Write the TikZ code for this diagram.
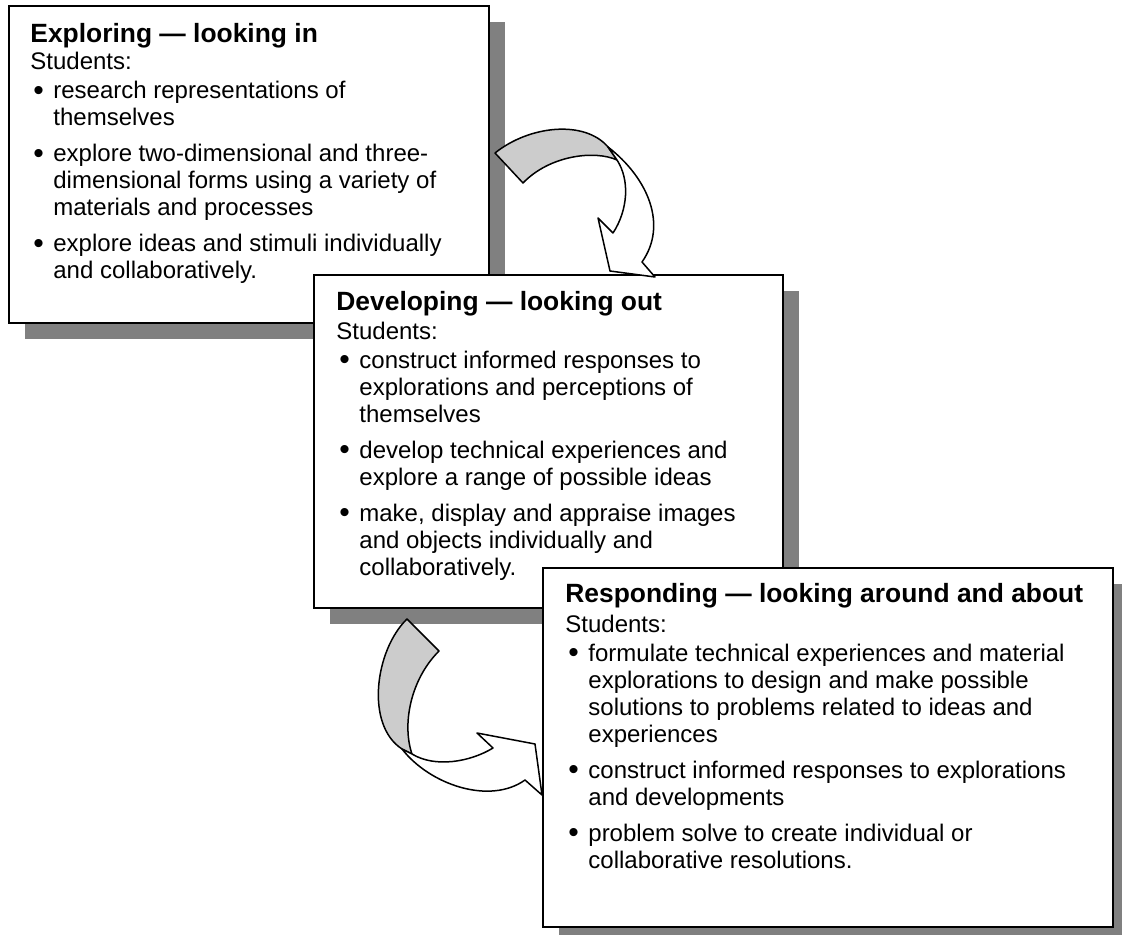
\documentclass[tikz,border=0pt]{standalone}
\usepackage{fontspec}
\setmainfont{Liberation Sans}
\usepackage{graphicx}
\usepackage{tikz}
\usetikzlibrary{positioning}
\definecolor{shadowgray}{RGB}{128,128,128}
\definecolor{foldgray}  {RGB}{204,204,204}

\tikzset{
	card/.style={draw=black, line width=1pt, fill=white},
	cardshadow/.style={fill=shadowgray, shift={(16,16)}},
	heading/.style={inner sep=0pt, anchor=base west, font=\fontsize{13.2}{15}\selectfont\bfseries},
	points/.style={inner sep=0pt, anchor=base west, font=\fontsize{12}{13.5}\selectfont},
	foldback/.style={draw=black, line width=0.75pt, fill=foldgray, line join=round},
	foldfront/.style={draw=black, line width=0.75pt, fill=white, line join=round}
}
% bullet column, then the wrapped text
\newenvironment{pointlist}{\begin{tabular}[t]{@{\hspace{1.5pt}}p{10pt}@{}l@{}}}{\end{tabular}}
\newcommand{\dotmark}{\raisebox{-0.9pt}{\scalebox{1.25}{\textbullet}}}

\begin{document}
\begin{tikzpicture}[x=0.5pt, y=-0.5pt]
	\useasboundingbox (0,0) rectangle (1122,935);

	% first stage
	\fill[cardshadow] (9,6) rectangle (489,323);
	\draw[card] (9,6) rectangle (489,323);
	\node[heading] (exploretitle) at (30,43) {Exploring — looking in};
	\node[points] (explorelist) at (30,70) {\begin{pointlist}
		\multicolumn{2}{@{}l@{}}{Students:}\\[1pt]
		\dotmark & research representations of\\
		& themselves\\[4.5pt]
		\dotmark & explore two-dimensional and three-\\
		& dimensional forms using a variety of\\
		& materials and processes\\[4.5pt]
		\dotmark & explore ideas and stimuli individually\\
		& and collaboratively.
	\end{pointlist}};

	% second stage
	\fill[cardshadow] (314,275) rectangle (783,608);
	\draw[card] (314,275) rectangle (783,608);
	\node[heading] (developtitle) at (336,310) {Developing — looking out};
	\node[points] (developlist) at (336,339) {\begin{pointlist}
		\multicolumn{2}{@{}l@{}}{Students:}\\[1pt]
		\dotmark & construct informed responses to\\
		& explorations and perceptions of\\
		& themselves\\[4.5pt]
		\dotmark & develop technical experiences and\\
		& explore a range of possible ideas\\[4.5pt]
		\dotmark & make, display and appraise images\\
		& and objects individually and\\
		& collaboratively.
	\end{pointlist}};

	% third stage
	\fill[cardshadow] (543,568) rectangle (1113,927);
	\draw[card] (543,568) rectangle (1113,927);
	\node[heading] (respondtitle) at (565,602) {Responding — looking around and about};
	\node[points] (respondlist) at (565,632) {\begin{pointlist}
		\multicolumn{2}{@{}l@{}}{Students:}\\[1pt]
		\dotmark & formulate technical experiences and material\\
		& explorations to design and make possible\\
		& solutions to problems related to ideas and\\
		& experiences\\[4.5pt]
		\dotmark & construct informed responses to explorations\\
		& and developments\\[4.5pt]
		\dotmark & problem solve to create individual or\\
		& collaborative resolutions.
	\end{pointlist}};

	% bend from the first card down to the second
	\draw[foldback] (495,153) .. controls (530,125) and (585,120) .. (608,147)
		-- (617,160) .. controls (595,150) and (550,155) .. (523,183) -- cycle;
	\draw[foldfront] (608,147) .. controls (648,178) and (668,225) .. (642,262)
		-- (655,277) -- (610,271) -- (598,218) -- (613,233)
		.. controls (628,210) and (630,180) .. (617,160) -- cycle;

	% bend from the second card round to the third
	\draw[foldback] (407,619) .. controls (375,650) and (365,725) .. (402,749)
		-- (412,754) .. controls (402,725) and (410,680) .. (439,651) -- cycle;
	\draw[foldfront] (402,749) .. controls (430,785) and (490,805) .. (525,780)
		-- (542,795) -- (535,744) -- (477,733) -- (493,748)
		.. controls (470,762) and (435,768) .. (412,754) -- cycle;
\end{tikzpicture}
\end{document}
